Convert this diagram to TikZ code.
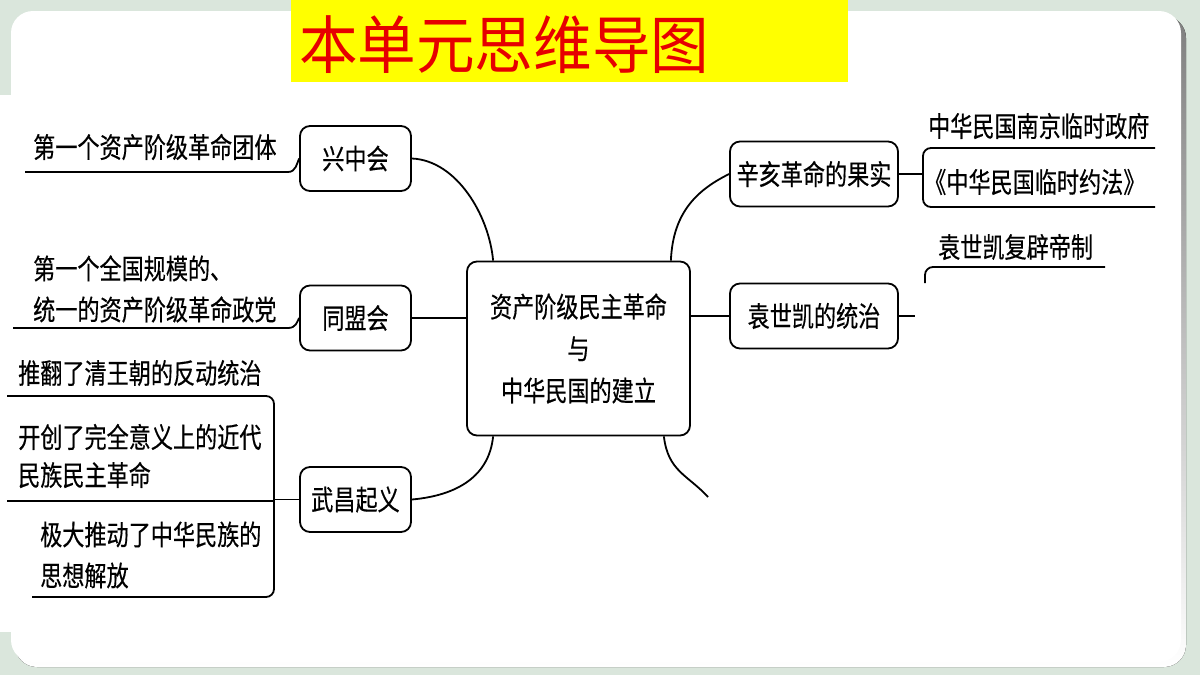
\documentclass[tikz,border=0pt]{standalone}
\usepackage{fontspec}
\newfontfamily\cjk[FakeStretch=0.93]{Noto Sans CJK SC}
\newfontfamily\cjkn[FakeStretch=0.79,FakeBold=0.4]{Noto Sans CJK SC}
\usepackage{tikz}
\usetikzlibrary{positioning}

\definecolor{frame}{RGB}{218,230,220}
\definecolor{shade}{RGB}{176,182,178}
\definecolor{titlered}{RGB}{230,0,0}
\definecolor{titlebar}{RGB}{255,255,0}

\tikzset{
  topic/.style={draw,line width=1.8pt,rounded corners=10pt,minimum height=65pt,
    inner sep=2pt,align=center,font=\cjkn\fontsize{28}{42}\selectfont},
  leaf/.style={anchor=west,inner sep=0pt,align=left,font=\cjkn\fontsize{28}{41}\selectfont},
  link/.style={line width=1.8pt},
}

\begin{document}
\begin{tikzpicture}[x=1pt,y=-1pt]
  \useasboundingbox (0,0) rectangle (1200,675);
  % slide background
  \fill[frame] (0,0) rectangle (1200,675);
  \fill[shade,rounded corners=22pt] (15,16) rectangle (1186,667);
  \fill[white,rounded corners=22pt] (11,11) rectangle (1181,662);
  \fill[white] (0,95) rectangle (1168,632);
  \fill[titlebar] (291,0) rectangle (848,82);
  \node[anchor=west,inner sep=0pt,text=titlered,font=\cjk\fontsize{63}{63}\selectfont] (title) at (299,45) {本单元思维导图};

  % centre and branches
  \node[topic,minimum width=223pt,minimum height=174pt] (hub) at (578.5,348.5)
    {资产阶级民主革命\\与\\中华民国的建立};
  \node[topic,minimum width=111pt] (xzh) at (355.5,158.5) {兴中会};
  \node[topic,minimum width=111pt] (tmh) at (355.5,318) {同盟会};
  \node[topic,minimum width=111pt] (wc) at (355.5,499.5) {武昌起义};
  \node[topic,minimum width=168pt] (xh) at (814,174) {辛亥革命的果实};
  \node[topic,minimum width=168pt] (ysk) at (814,316) {袁世凯的统治};
  \coordinate (cut) at (708,497);

  \draw[link] (xzh.east) .. controls +(45,2) and +(-4,-45) .. ([xshift=27pt]hub.north west);
  \draw[link] (tmh.east) -- (hub.west |- tmh.east);
  \draw[link] (wc.east) .. controls +(45,-4) and +(-4,40) .. ([xshift=27pt]hub.south west);
  \draw[link] ([xshift=-20pt]hub.north east) .. controls +(2,-50) and +(-30,15) .. (xh.west);
  \draw[link] (hub.east |- ysk.west) -- (ysk.west);
  \draw[link] ([xshift=-27pt]hub.south east) .. controls +(4,35) and +(-20,-22) .. (cut);

  % left leaves
  \node[leaf] (xzhtxt) at (33,147) {第一个资产阶级革命团体};
  \coordinate (xzhend) at (25,172);
  \coordinate (xzhbend) at (288,172);
  \draw[link] (xzhend) -- (xzhbend) .. controls (296,172) and (297,163) .. (xzh.west);

  \node[leaf] (tmhtxt) at (33,289) {第一个全国规模的、\\统一的资产阶级革命政党};
  \coordinate (tmhend) at (13,328);
  \coordinate (tmhbend) at (288,328);
  \draw[link] (tmhend) -- (tmhbend) .. controls (296,328) and (297,322) .. (tmh.west);

  \node[leaf] (wctxt1) at (18,373) {推翻了清王朝的反动统治};
  \node[leaf,font=\cjkn\fontsize{28}{38}\selectfont] (wctxt2) at (18,456) {开创了完全意义上的近代\\民族民主革命};
  \node[leaf] (wctxt3) at (40,555) {极大推动了中华民族的\\思想解放};
  \coordinate (wctop) at (7,396);
  \coordinate (wcmid) at (7,501);
  \coordinate (wcbot) at (32,597);
  \coordinate (wcbrk) at (274,499.5);
  \draw[link,rounded corners=8pt] (wctop) -| (wcbrk) |- (wcbot);
  \draw[link] (wcmid) -- (wcbrk |- wcmid);
  \draw[link] (wc.west) -- (wcbrk);

  % right leaves
  \node[leaf] (xhtxt1) at (928,126) {中华民国南京临时政府};
  \node[leaf] (xhtxt2) at (924,182) {《中华民国临时约法》};
  \coordinate (xhtop) at (1155,148);
  \coordinate (xhbot) at (1155,207);
  \coordinate (xhbrk) at (923,174);
  \draw[link,rounded corners=8pt] (xhtop) -| (xhbrk) |- (xhbot);
  \draw[link] (xh.east) -- (xhbrk);

  \node[leaf] (ysktxt) at (938,247) {袁世凯复辟帝制};
  \coordinate (ysktop) at (1105,267);
  \coordinate (yskdown) at (925,283);
  \coordinate (yskstub) at (915,316);
  \draw[link,rounded corners=8pt] (ysktop) -| (yskdown);
  \draw[link] (ysk.east) -- (yskstub);
\end{tikzpicture}
\end{document}
